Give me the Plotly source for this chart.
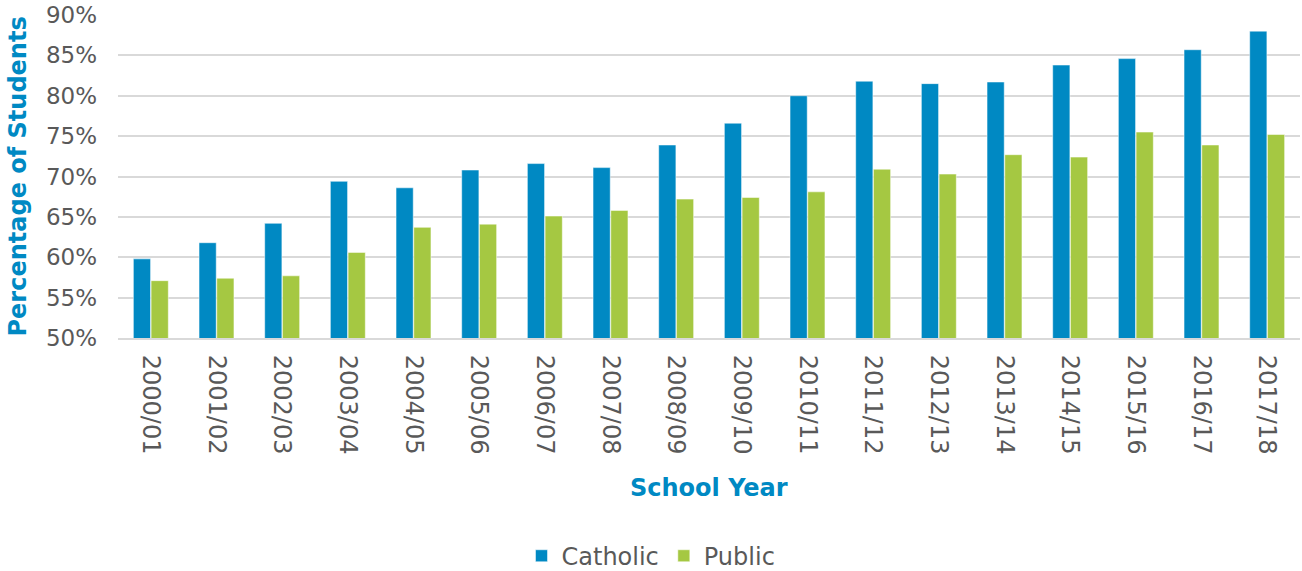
import plotly.graph_objects as go

# School years on the category axis
years = ["2000/01", "2001/02", "2002/03", "2003/04", "2004/05", "2005/06",
         "2006/07", "2007/08", "2008/09", "2009/10", "2010/11", "2011/12",
         "2012/13", "2013/14", "2014/15", "2015/16", "2016/17", "2017/18"]

# Percentage of students, by school system
catholic = [59.8, 61.8, 64.2, 69.4, 68.6, 70.8, 71.6, 71.1, 73.9, 76.6,
            80.0, 81.8, 81.5, 81.7, 83.8, 84.6, 85.7, 88.0]
public = [57.1, 57.4, 57.7, 60.6, 63.7, 64.1, 65.1, 65.8, 67.2, 67.4,
          68.1, 70.9, 70.3, 72.7, 72.4, 75.5, 73.9, 75.2]

y_ticks = [50, 55, 60, 65, 70, 75, 80, 85, 90]

BLUE = "#0089C3"
GREEN = "#A5C842"
GRID = "#D9D9D9"
TEXT = "#595959"
FONT = "DejaVu Sans"

fig = go.Figure()
fig.add_trace(go.Bar(x=years, y=catholic, name="Catholic",
                     marker=dict(color=BLUE, line=dict(color="white", width=0.5))))
fig.add_trace(go.Bar(x=years, y=public, name="Public",
                     marker=dict(color=GREEN, line=dict(color="white", width=0.5))))

fig.update_layout(
    width=1302, height=571,
    margin=dict(l=118, r=2, t=13, b=233),
    paper_bgcolor="white", plot_bgcolor="white",
    barmode="group", bargap=0.46, bargroupgap=0.03,
    font=dict(family=FONT, color=TEXT, size=22),
    showlegend=True,
    legend=dict(orientation="h", xref="container", yref="container",
                x=0.5, xanchor="center", y=0.026, yanchor="middle",
                font=dict(size=24, color=TEXT), itemwidth=30,
                traceorder="normal"),
    xaxis=dict(type="category", tickangle=90, showgrid=False,
               showline=True, linecolor=GRID, linewidth=2,
               ticks="", ticklabelstandoff=10,
               tickfont=dict(size=24, color=TEXT, family=FONT)),
    yaxis=dict(range=[50, 90], tickvals=y_ticks,
               ticktext=[f"{v}%" for v in y_ticks],
               showgrid=True, gridcolor=GRID, gridwidth=2,
               zeroline=False, showline=False, ticks="",
               ticklabelstandoff=20,
               tickfont=dict(size=23, color=TEXT, family=FONT)),
    annotations=[
        dict(text="<b>School Year</b>", xref="paper", yref="paper",
             x=0.5, y=0, yshift=-150, xshift=0,
             xanchor="center", yanchor="middle", showarrow=False,
             font=dict(size=24, color=BLUE, family=FONT)),
        dict(text="<b>Percentage of Students</b>", xref="paper", yref="paper",
             x=0, y=0.5, xshift=-101, textangle=-90,
             xanchor="center", yanchor="middle", showarrow=False,
             font=dict(size=24, color=BLUE, family=FONT)),
    ],
)

fig.write_html("out.html")
